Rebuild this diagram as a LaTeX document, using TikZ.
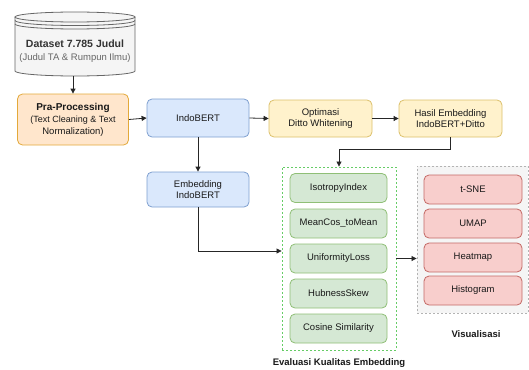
\documentclass[tikz,border=0pt]{standalone}
\usepackage{fontspec}
\setmainfont{Liberation Sans}
\usetikzlibrary{arrows.meta,calc}
\definecolor{oF}{HTML}{FFE6CC}\definecolor{oD}{HTML}{E3A93A}
\definecolor{bF}{HTML}{DAE8FC}\definecolor{bD}{HTML}{7E9FCF}
\definecolor{yF}{HTML}{FFF2CC}\definecolor{yD}{HTML}{DCC06A}
\definecolor{gF}{HTML}{D5E8D4}\definecolor{gD}{HTML}{8FBF76}
\definecolor{rF}{HTML}{F8CECC}\definecolor{rD}{HTML}{C46A66}
\definecolor{sF}{HTML}{F5F5F5}\definecolor{sD}{HTML}{666666}
\definecolor{txt}{HTML}{333333}
\definecolor{subtxt}{HTML}{666666}
\definecolor{dashG}{HTML}{66CC66}
\definecolor{dashS}{HTML}{B3B3B3}
\tikzset{
  box/.style={draw, rounded corners=5pt, line width=0.8pt, align=center, font=\fontsize{9.5}{11.5}\selectfont, inner sep=0pt, text=black!90},
  obox/.style={box, fill=oF, draw=oD, minimum width=111pt, minimum height=51pt},
  bbox/.style={box, fill=bF, draw=bD, minimum width=102pt},
  ybox/.style={box, fill=yF, draw=yD, minimum width=103pt, minimum height=37pt},
  gbox/.style={box, fill=gF, draw=gD, minimum width=97pt, minimum height=29pt},
  rbox/.style={box, fill=rF, draw=rD, minimum width=98pt, minimum height=29pt},
  group/.style={draw, line width=0.9pt, dash pattern=on 2pt off 2pt, inner sep=0pt},
  arr/.style={draw=black!85, line width=0.8pt, -{Triangle[length=5pt,width=5pt]}},
  lbl/.style={font=\bfseries\fontsize{9.5}{11}\selectfont, text=black!90},
  cyl/.style={sD, line width=0.8pt},
}
\begin{document}
\begin{tikzpicture}[x=1pt,y=-1pt]
\useasboundingbox (0,0) rectangle (529,369);
% cylinder (datastore)
\fill[sF] (15,17) -- (15,71) arc[start angle=180,end angle=0,x radius=60,y radius=5] -- (135,17) arc[start angle=0,end angle=-180,x radius=60,y radius=5] -- cycle;
\draw[cyl] (15,17) -- (15,71) arc[start angle=180,end angle=0,x radius=60,y radius=5] -- (135,17);
\draw[cyl] (75,17) ellipse[x radius=60,y radius=5];
\draw[cyl] (15,20.5) arc[start angle=180,end angle=0,x radius=60,y radius=5];
\draw[cyl] (15,24) arc[start angle=180,end angle=0,x radius=60,y radius=5];
\node[minimum width=120pt, minimum height=64pt, inner sep=0pt] (data) at (75,44) {};
\node[align=center, text=txt, font=\fontsize{9.5}{13}\selectfont] (datat) at (75,51.5) {{\bfseries\fontsize{10.5}{13}\selectfont Dataset 7.785 Judul}\\{\color{subtxt}(Judul TA \& Rumpun Ilmu)}};

\node[obox] (pre) at (73,119.5) {{\bfseries\fontsize{10}{12}\selectfont Pra-Processing}\\[1pt]\fontsize{9}{11.5}\selectfont(Text Cleaning \& Text\\Normalization)};
\node[bbox, minimum height=38pt] (bert) at (198,118) {IndoBERT};
\node[ybox] (ditto) at (320.5,118.5) {Optimasi\\Ditto Whitening};
\node[ybox] (hasil) at (450.5,118.5) {Hasil Embedding\\IndoBERT+Ditto};
\node[bbox, minimum height=35pt] (emb) at (198,189.5) {Embedding\\IndoBERT};

\node[group, draw=dashG, minimum width=114pt, minimum height=183pt] (eval) at (339,258.5) {};
\node[gbox] (g1) at (338.5,188) {IsotropyIndex};
\node[gbox] (g2) at (338.5,223.5) {MeanCos\_toMean};
\node[gbox] (g3) at (338.5,258.5) {UniformityLoss};
\node[gbox] (g4) at (338.5,293.5) {HubnessSkew};
\node[gbox] (g5) at (338.5,328.5) {Cosine Similarity};
\node[lbl] (evall) at (339,363) {Evaluasi Kualitas Embedding};

\node[group, draw=dashS, fill=sF, minimum width=111pt, minimum height=147pt] (vis) at (472.5,239.5) {};
\node[rbox] (r1) at (473,189.5) {t-SNE};
\node[rbox] (r2) at (473,223.5) {UMAP};
\node[rbox] (r3) at (473,257.5) {Heatmap};
\node[rbox] (r4) at (473,290.5) {Histogram};
\node[lbl] (visl) at (476,334) {Visualisasi};

\coordinate (m1) at (339,149);
\draw[arr] (pre.north |- data.south) -- (pre.north);
\draw[arr] (pre.east) -- (bert.west);
\draw[arr] (bert.east) -- (ditto.west);
\draw[arr] (ditto.east) -- (hasil.west);
\draw[arr] (hasil.south) |- (m1) -- (eval.north);
\draw[arr] (bert.south) -- (emb.north);
\draw[arr] (emb.south) |- ([yshift=7.5pt]eval.west);
\draw[arr] (eval.east) -- (eval.east -| vis.west);
\end{tikzpicture}
\end{document}
